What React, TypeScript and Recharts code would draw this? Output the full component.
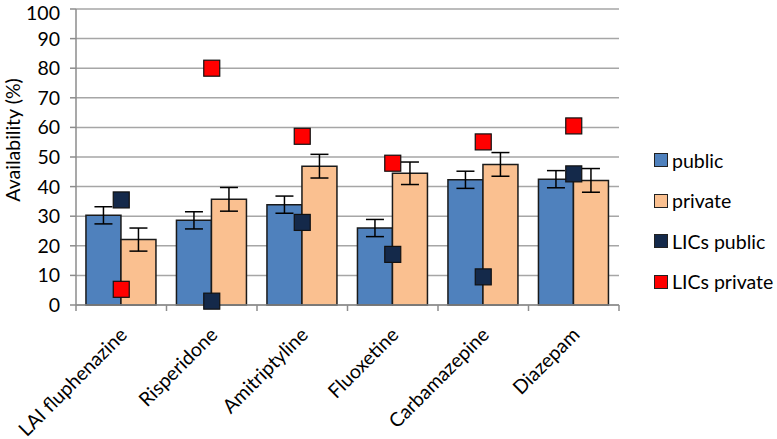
import { ComposedChart, Bar, Scatter, XAxis, YAxis, CartesianGrid, ErrorBar, Legend } from "recharts";

const drugs = ["LAI fluphenazine", "Risperidone", "Amitriptyline", "Fluoxetine", "Carbamazepine", "Diazepam"];
const publicAvail = [30.3, 28.6, 33.9, 26.0, 42.3, 42.5];
const publicErr = [2.9, 2.9, 2.9, 2.9, 2.9, 2.9];
const privateAvail = [22.1, 35.7, 46.9, 44.5, 47.5, 42.1];
const privateErr = [3.9, 4.0, 4.0, 3.8, 4.0, 4.0];
const licsPublic = [35.5, 1.3, 27.9, 17.1, 9.5, 44.3];
const licsPrivate = [5.3, 80.0, 57.0, 47.9, 55.1, 60.5];
const yTicks = [0, 10, 20, 30, 40, 50, 60, 70, 80, 90, 100];

const data = drugs.map((name, i) => ({
  name,
  public: publicAvail[i],
  publicErr: publicErr[i],
  private: privateAvail[i],
  privateErr: privateErr[i],
  licsPublic: licsPublic[i],
  licsPrivate: licsPrivate[i],
}));

const FONT = "Lato, 'Open Sans', sans-serif";
const FS = 19.5;
const AXIS_GRAY = "#8c8c8c";
const BAND = 543 / 6;

const series = [
  { name: "public", color: "#4F81BD" },
  { name: "private", color: "#FAC090" },
  { name: "LICs public", color: "#14294A" },
  { name: "LICs private", color: "#FF0000" },
];

const square = (fill: string) => (props: any) => {
  const { cx, cy } = props;
  if (cx == null || cy == null) return <g />;
  return <rect x={cx - 8} y={cy - 8} width={16} height={16} fill={fill} stroke="#111" strokeWidth={1.2} />;
};

const XTick = (props: any) => {
  const { x, y, payload, index } = props;
  const left = x - BAND / 2;
  return (
    <g>
      <line x1={left} y1={y} x2={left} y2={y + 6} stroke={AXIS_GRAY} strokeWidth={1.5} />
      {index === drugs.length - 1 && (
        <line x1={x + BAND / 2} y1={y} x2={x + BAND / 2} y2={y + 6} stroke={AXIS_GRAY} strokeWidth={1.5} />
      )}
      <text
        x={x + 7}
        y={y + 31}
        textAnchor="end"
        transform={`rotate(-45 ${x + 7} ${y + 31})`}
        fontSize={FS}
        fontFamily={FONT}
        fill="#000"
      >
        {payload.value}
      </text>
    </g>
  );
};

// top label nudged down a little so it is not clipped by the page edge
const YTick = (props: any) => {
  const { x, y, payload } = props;
  const yy = Math.max(y, 12.5);
  return (
    <text x={x} y={yy} dy="0.36em" textAnchor="end" fontSize={FS} fontFamily={FONT} fill="#000">
      {payload.value}
    </text>
  );
};

const LegendBox = () => (
  <div style={{ fontFamily: FONT, fontSize: FS, color: "#000" }}>
    {series.map((s) => (
      <div key={s.name} style={{ display: "flex", alignItems: "center", height: 40.5 }}>
        <span
          style={{
            display: "inline-block",
            width: 12,
            height: 12,
            background: s.color,
            border: "1.2px solid #222",
            marginRight: 4,
          }}
        />
        <span>{s.name}</span>
      </div>
    ))}
  </div>
);

export default function App() {
  return (
    <div style={{ position: "absolute", left: 0, top: 0, width: 777, height: 439, background: "#fff" }}>
      <ComposedChart
        width={777}
        height={439}
        data={data}
        margin={{ top: 9, right: 158, left: 0, bottom: 0 }}
        barCategoryGap="11%"
        barGap={0}
      >
        <CartesianGrid vertical={false} stroke="#a6a6a6" strokeWidth={1.5} />
        <XAxis
          dataKey="name"
          height={134}
          tickLine={false}
          tickSize={0}
          tickMargin={0}
          interval={0}
          axisLine={{ stroke: AXIS_GRAY, strokeWidth: 1.5 }}
          tick={<XTick />}
        />
        <YAxis
          width={76}
          domain={[0, 100]}
          ticks={yTicks}
          interval={0}
          tickSize={6}
          tickMargin={10}
          axisLine={{ stroke: AXIS_GRAY, strokeWidth: 1.5 }}
          tickLine={{ stroke: AXIS_GRAY, strokeWidth: 1.5 }}
          tick={<YTick />}
          label={{
            content: () => (
              <text
                x={12}
                y={140}
                transform="rotate(-90 12 140)"
                textAnchor="middle"
                dominantBaseline="central"
                fontSize={FS}
                fontFamily={FONT}
                fill="#000"
              >
                Availability (%)
              </text>
            ),
          }}
        />
        <Bar dataKey="public" name="public" fill="#4F81BD" stroke="#1a1a1a" strokeWidth={1.5} isAnimationActive={false}>
          <ErrorBar dataKey="publicErr" width={9} stroke="#000" strokeWidth={1.5} />
        </Bar>
        <Bar dataKey="private" name="private" fill="#FAC090" stroke="#1a1a1a" strokeWidth={1.5} isAnimationActive={false}>
          <ErrorBar dataKey="privateErr" width={9} stroke="#000" strokeWidth={1.5} />
        </Bar>
        <Scatter dataKey="licsPublic" name="LICs public" fill="#14294A" shape={square("#14294A")} isAnimationActive={false} />
        <Scatter dataKey="licsPrivate" name="LICs private" fill="#FF0000" shape={square("#FF0000")} isAnimationActive={false} />
        <Legend
          layout="vertical"
          align="center"
          verticalAlign="middle"
          content={<LegendBox />}
          wrapperStyle={{ left: 654, top: 140, width: 123 }}
        />
      </ComposedChart>
    </div>
  );
}
